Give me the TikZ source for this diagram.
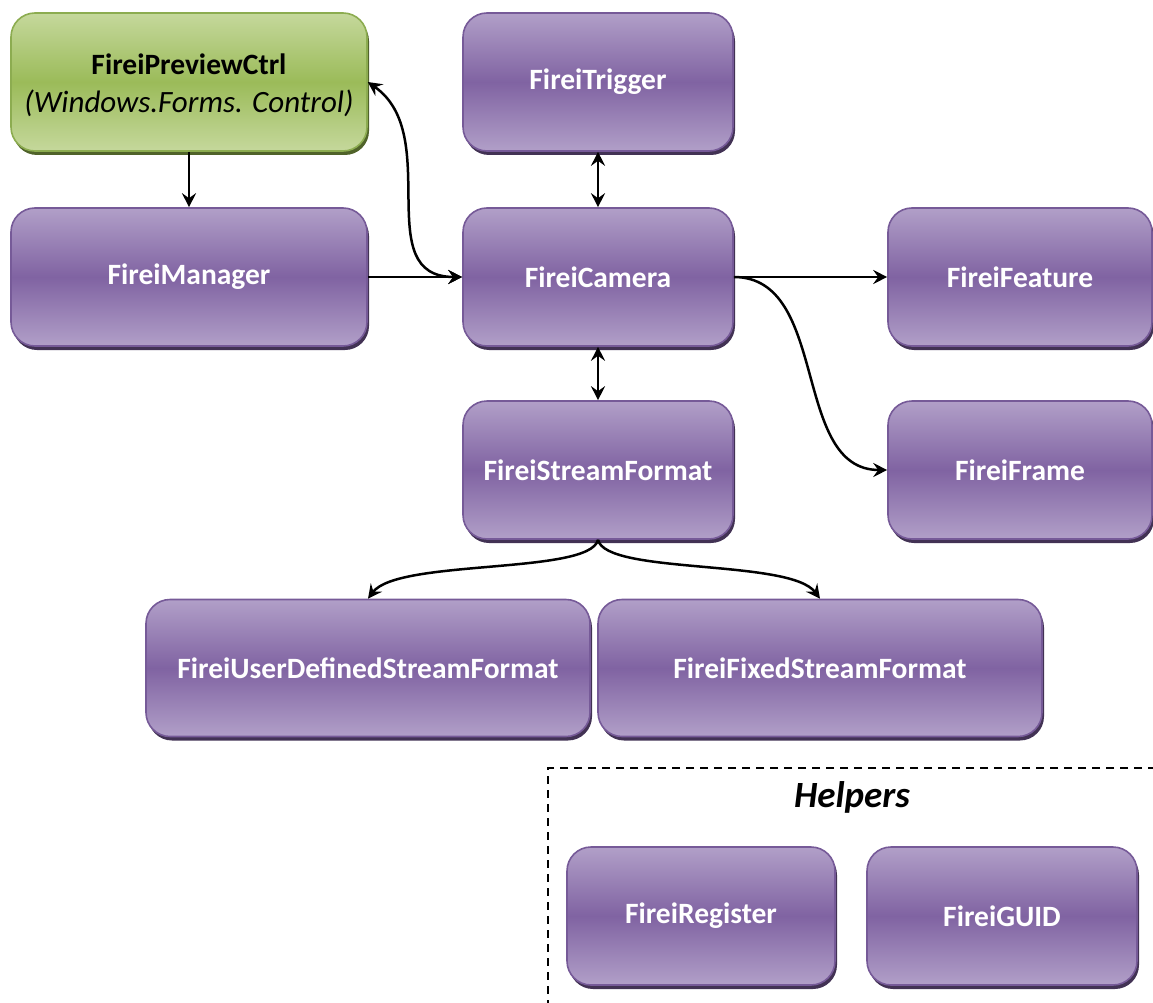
\documentclass[tikz,border=0pt]{standalone}
\usepackage{fontspec}
\setmainfont{Carlito}
\usetikzlibrary{arrows.meta,shadows}
\definecolor{plight}{RGB}{177,159,200}
\definecolor{pmid}{RGB}{128,99,162}
\definecolor{pborder}{RGB}{118,90,152}
\definecolor{pshadow}{RGB}{66,50,84}
\definecolor{glight}{RGB}{197,216,156}
\definecolor{gmid}{RGB}{155,187,89}
\definecolor{gborder}{RGB}{140,172,80}
\definecolor{gshadow}{RGB}{80,99,42}
\tikzset{
  base/.style={rounded corners=24pt, line width=1.6pt, align=center,
    font=\fontsize{29.5}{34}\selectfont\bfseries, inner sep=0pt},
  pbox/.style={base, draw=pborder, top color=plight, bottom color=plight, middle color=pmid,
    text=white, general shadow={fill=pshadow, shadow xshift=2pt, shadow yshift=-4pt}},
  gbox/.style={base, draw=gborder, top color=glight, bottom color=glight, middle color=gmid,
    text=black, general shadow={fill=gshadow, shadow xshift=2pt, shadow yshift=-4pt}},
  tip/.tip={Stealth[length=14pt,width=14pt,inset=5pt]},
  conn/.style={line width=2.5pt, black, -tip},
  dconn/.style={line width=2.5pt, black, tip-tip},
}
\begin{document}
\begin{tikzpicture}[x=1pt,y=-1pt]
\useasboundingbox (0,0) rectangle (1153,1003);
% helpers frame
\begin{scope}
\clip (0,0) rectangle (1153,1003);
\draw[line width=1.6pt, dash pattern=on 8pt off 6pt] (1170,768) -- (548,768) -- (548,1020);
\end{scope}
\node[font=\fontsize{37}{42}\selectfont\bfseries\itshape] (helpers) at (852,797) {Helpers};

\node[gbox, minimum width=356pt, minimum height=138pt] (pc) at (189,82) {};
\node[font=\fontsize{29.5}{34}\selectfont\bfseries] (pct) at (189,64) {FireiPreviewCtrl};
\node[font=\fontsize{31}{36}\selectfont\itshape] (pcs) at (189,103) {(Windows.Forms. Control)};
\node[pbox, minimum width=270pt, minimum height=138pt] (trig) at (598,82) {FireiTrigger};
\node[pbox, minimum width=356pt, minimum height=138pt] (man) at (189,277) {FireiManager};
\node[pbox, minimum width=270pt, minimum height=138pt] (cam) at (598,277) {FireiCamera};
\node[pbox, minimum width=264pt, minimum height=138pt] (feat) at (1020,277) {FireiFeature};
\node[pbox, minimum width=270pt, minimum height=138pt] (sf) at (598,470) {FireiStreamFormat};
\node[pbox, minimum width=264pt, minimum height=138pt] (frame) at (1020,470) {FireiFrame};
\node[pbox, minimum width=444pt, minimum height=137pt] (ud) at (368,668) {FireiUserDefinedStreamFormat};
\node[pbox, minimum width=444pt, minimum height=137pt] (fixed) at (820,668) {FireiFixedStreamFormat};
\node[pbox, minimum width=268pt, minimum height=138pt] (reg) at (701,916) {FireiRegister};
\node[pbox, minimum width=270pt, minimum height=138pt] (guid) at (1002,916) {FireiGUID};

% connectors
\draw[conn] (pc.south) -- (man.north);
\draw[conn] (man.east) -- (cam.west);
\draw[dconn] (pc.east) to[out=-35,in=180,looseness=1.1] (cam.west);
\draw[dconn] (trig.south) -- (cam.north);
\draw[dconn] (cam.south) -- (sf.north);
\draw[conn] (cam.east) -- (feat.west);
\draw[conn] (cam.east) to[out=0,in=180] (frame.west);
\draw[conn] (sf.south) .. controls +(-8,35) and +(30,-40) .. (ud.north);
\draw[conn] (sf.south) .. controls +(8,35) and +(-30,-40) .. (fixed.north);
\end{tikzpicture}
\end{document}
